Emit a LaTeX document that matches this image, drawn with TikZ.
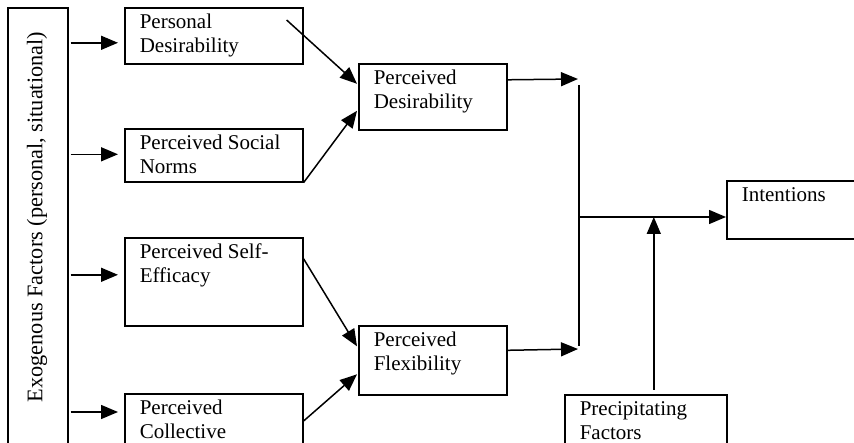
\documentclass[tikz,border=0pt]{standalone}
\usepackage{fontspec}
\setmainfont{Liberation Serif}
\usepackage{tikz}
\usetikzlibrary{arrows.meta,positioning,calc}
\tikzstyle{block}=[draw,line width=1.6pt,anchor=north west,inner xsep=15pt,inner ysep=0pt]
\tikzstyle{link}=[line width=1.5pt,-{Triangle[length=17pt,width=14pt]}]
\tikzstyle{junction}=[line width=1.5pt]
\newcommand{\blocktext}[3]{\begin{minipage}[c][#2][t]{#1}\raggedright\rule{0pt}{21pt}#3\end{minipage}}

\begin{document}
\begin{tikzpicture}[x=1pt,y=-1pt,font=\fontsize{21}{24}\selectfont]
\useasboundingbox (0,0) rectangle (854,443);
\clip (0,0) rectangle (854,443);
\node [block] (exo) at (7,7) {\blocktext{30pt}{480pt}{}};
\node [rotate=90,font=\fontsize{22.3}{26}\selectfont] (exolabel) at (37,217) {Exogenous Factors (personal, situational)};
\node [block] (pdes) at (124,7) {\blocktext{148pt}{56pt}{Personal\\Desirability}};
\node [block] (psn) at (124,128) {\blocktext{148pt}{53pt}{Perceived Social\\Norms}};
\node [block] (pse) at (124,237) {\blocktext{148pt}{88pt}{Perceived Self-\\Efficacy}};
\node [block] (pcol) at (124,393) {\blocktext{148pt}{80pt}{Perceived\\Collective}};
\node [block] (perdes) at (358,63) {\blocktext{118pt}{66pt}{Perceived\\Desirability}};
\node [block] (perflex) at (358,325) {\blocktext{118pt}{69pt}{Perceived\\Flexibility}};
\node [block] (intent) at (726,180) {\blocktext{130pt}{58pt}{Intentions}};
\node [block] (precip) at (564,394) {\blocktext{132pt}{70pt}{Precipitating\\Factors}};
\coordinate (jtop) at (579,85);
\coordinate (jbot) at (579,346);
\coordinate (jmid) at (579,217);

% exogenous factors to the four perceptions
\draw[link] ($(exo.east |- pdes.west)+(2,7)$) -- ($(pdes.west)+(-6,7)$);
\draw[link] ($(exo.east |- psn.west)+(2,-1)$) -- ($(psn.west)+(-6,-1)$);
\draw[link] ($(exo.east |- pse.west)+(2,-7)$) -- ($(pse.west)+(-6,-7)$);
\draw[link] ($(exo.east |- pcol.north)+(2,19)$) -- ($(pcol.north west)+(-6,19)$);

% into desirability and flexibility
\draw[link] ($(pdes.north east)+(-17,13)$) -- ($(perdes.west)+(-1,-13)$);
\draw[link] (psn.south east) -- ($(perdes.west)+(-1,14)$);
\draw[link] ($(pse.east)+(0,-23)$) -- ($(perflex.west)+(-1,-14)$);
\draw[link] ($(pcol.north east)+(0,28)$) -- ($(perflex.west)+(-1,14)$);

% towards intentions
\draw[link] ($(perdes.east)+(0,-17)$) -- ($(jtop)+(-1,-6)$);
\draw[link] ($(perflex.east)+(0,-10)$) -- ($(jbot)+(-1,3)$);
\draw[junction] (jtop) -- (jbot);
\draw[link] (jmid) -- (intent.west |- jmid);
\draw[link] ($(precip.north)+(8,-4)$) -- ($(precip.north |- jmid)+(8,0)$);
\end{tikzpicture}
\end{document}
